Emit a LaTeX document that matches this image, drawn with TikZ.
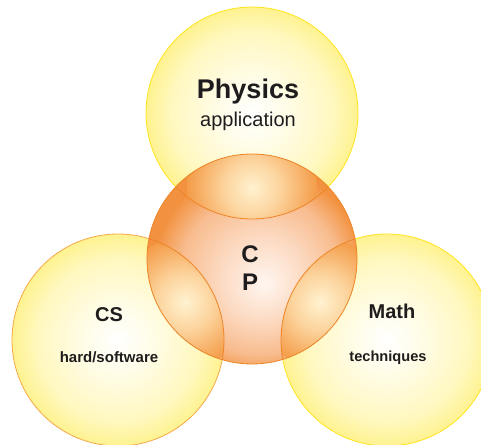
\documentclass[tikz,border=0pt]{standalone}
\usepackage{fontspec}
\setmainfont{Liberation Sans}
\definecolor{yedge}{HTML}{FFF290}
\definecolor{ymid}{HTML}{FFFCE4}
\definecolor{ymid2}{HTML}{FFF8C0}
\definecolor{yline}{HTML}{FFE41A}
\definecolor{yline2}{HTML}{F6A948}
\definecolor{oline}{HTML}{EE8526}
\definecolor{oedge}{HTML}{F29240}
\definecolor{omid}{HTML}{FCDAC2}
\definecolor{omid2}{HTML}{F8BC8E}
\definecolor{ocenter}{HTML}{FFF6F0}
\definecolor{lcenter}{HTML}{FFF2D0}
\definecolor{lmid}{HTML}{FCD39C}
\definecolor{ledge}{HTML}{F49C48}
\definecolor{txt}{HTML}{1F1C1D}
\pgfdeclareradialshading{yball}{\pgfpoint{0bp}{0bp}}{color(0bp)=(white); color(9bp)=(ymid); color(19bp)=(ymid2); color(25bp)=(yedge); color(50bp)=(yedge)}
\pgfdeclareradialshading{oball}{\pgfpoint{3bp}{-6bp}}{color(0bp)=(ocenter); color(10bp)=(omid); color(19bp)=(omid2); color(25bp)=(oedge); color(50bp)=(oedge)}
\pgfdeclareradialshading{lens}{\pgfpoint{0bp}{0bp}}{color(0bp)=(lcenter); color(11bp)=(lmid); color(25bp)=(ledge); color(50bp)=(ledge)}
\tikzset{
  ycirc/.style={shading=yball},
  lbl/.style={text=txt, inner sep=0pt, anchor=center},
}
\begin{document}
\begin{tikzpicture}[x=1pt,y=-1pt]
\useasboundingbox (0,0) rectangle (481,444);
\clip (0,0) rectangle (481,444);
% coordinates of circle centres
\coordinate (cP) at (252,113);
\coordinate (cC) at (118,340);
\coordinate (cM) at (387,340);
\coordinate (cX) at (252,259);
% yellow circles
\shade[ycirc] (cP) circle[radius=106pt];
\shade[ycirc] (cC) circle[radius=106pt];
\shade[ycirc] (cM) circle[radius=106pt];
\draw[yline, line width=0.8pt] (cP) circle[radius=106pt];
\draw[yline2, line width=0.8pt] (cC) circle[radius=106pt];
\draw[yline, line width=0.8pt] (cM) circle[radius=106pt];
% central orange circle
\shade[shading=oball] (cX) circle[radius=105pt];
% lenses
\begin{scope}
  \clip (cX) circle[radius=105pt];
  \begin{scope}
    \clip (cP) circle[radius=106pt];
    \shade[shading=lens] (252,188) circle[radius=65pt];
  \end{scope}
  \begin{scope}
    \clip (cC) circle[radius=106pt];
    \shade[shading=lens] (185,302) circle[radius=65pt];
  \end{scope}
  \begin{scope}
    \clip (cM) circle[radius=106pt];
    \shade[shading=lens] (320,302) circle[radius=65pt];
  \end{scope}
  \draw[oline, line width=0.8pt] (cP) circle[radius=106pt];
  \draw[oline, line width=0.8pt] (cC) circle[radius=106pt];
  \draw[oline, line width=0.8pt] (cM) circle[radius=106pt];
\end{scope}
\draw[oline, line width=0.8pt] (cX) circle[radius=105pt];
% labels
\node[lbl, font=\fontsize{27}{30}\selectfont\bfseries] (phys) at (248,92) {Physics};
\node[lbl, font=\fontsize{20}{24}\selectfont] (app) at (248,121) {application};
\node[lbl, font=\fontsize{24}{28}\selectfont\bfseries] (c) at (250,254) {C};
\node[lbl, font=\fontsize{24}{28}\selectfont\bfseries] (p) at (250,282) {P};
\node[lbl, font=\fontsize{20}{24}\selectfont\bfseries] (cs) at (109,315) {CS};
\node[lbl, font=\fontsize{15}{18}\selectfont\bfseries] (hs) at (109,357) {hard/software};
\node[lbl, font=\fontsize{20}{24}\selectfont\bfseries] (math) at (392,311) {Math};
\node[lbl, font=\fontsize{14.6}{18}\selectfont\bfseries] (tech) at (388,358) {techniques};
\end{tikzpicture}
\end{document}
